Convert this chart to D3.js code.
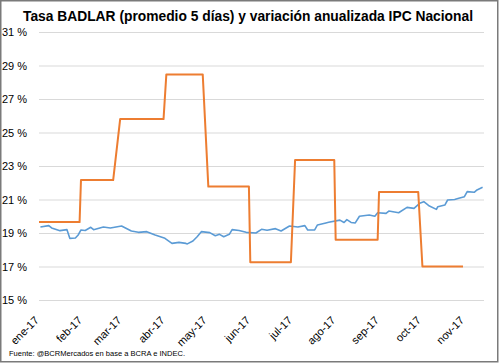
<!DOCTYPE html>
<html>
<head>
<meta charset="utf-8">
<script src="https://cdn.jsdelivr.net/npm/d3@7"></script>
<style>
  body { margin: 0; background: #fff; }
  text { font-family: "Liberation Sans", Arial, sans-serif; fill: #000; }
</style>
</head>
<body>
<script>
const width = 500;
const height = 363;

// BADLAR 5-day average (% TNA)
const badlarDates = [
  '2017-01-02', '2017-01-08', '2017-01-10', '2017-01-16', '2017-01-21', '2017-01-23',
  '2017-01-27', '2017-01-29', '2017-01-31', '2017-02-03', '2017-02-07', '2017-02-09',
  '2017-02-16', '2017-02-21', '2017-03-01', '2017-03-08', '2017-03-13', '2017-03-19',
  '2017-03-25', '2017-04-01', '2017-04-06', '2017-04-11', '2017-04-16', '2017-04-17',
  '2017-04-21', '2017-04-24', '2017-04-27', '2017-05-03', '2017-05-07', '2017-05-10',
  '2017-05-13', '2017-05-17', '2017-05-19', '2017-05-24', '2017-05-29', '2017-06-05',
  '2017-06-09', '2017-06-13', '2017-06-19', '2017-06-23', '2017-06-29', '2017-07-05',
  '2017-07-10', '2017-07-12', '2017-07-17', '2017-07-19', '2017-07-25', '2017-07-27',
  '2017-08-04', '2017-08-07', '2017-08-09', '2017-08-12', '2017-08-15', '2017-08-18',
  '2017-08-25', '2017-08-29', '2017-08-31', '2017-09-06', '2017-09-08', '2017-09-15',
  '2017-09-21', '2017-09-26', '2017-09-30', '2017-10-03', '2017-10-07', '2017-10-12',
  '2017-10-13', '2017-10-18', '2017-10-20', '2017-10-25', '2017-10-28', '2017-11-01',
  '2017-11-03', '2017-11-08', '2017-11-10', '2017-11-14'
];
const badlarValues = [
  19.36, 19.44, 19.30, 19.14, 19.20, 18.68,
  18.70, 18.88, 19.18, 19.15, 19.34, 19.20,
  19.36, 19.30, 19.42, 19.12, 19.04, 19.08,
  18.88, 18.68, 18.38, 18.44, 18.38, 18.35,
  18.52, 18.78, 19.08, 19.02, 18.84, 18.92,
  18.78, 18.92, 19.20, 19.15, 19.04, 19.00,
  19.22, 19.16, 19.26, 19.12, 19.42, 19.36,
  19.44, 19.18, 19.18, 19.48, 19.60, 19.64,
  19.77, 19.63, 19.80, 19.63, 19.60, 20.00,
  20.07, 20.00, 20.21, 20.17, 20.31, 20.21,
  20.53, 20.47, 20.77, 20.87, 20.61, 20.41,
  20.57, 20.67, 20.97, 21.00, 21.07, 21.17,
  21.47, 21.43, 21.57, 21.73
];

// IPC Nacional, monthly variation annualized (%)
const ipcDates = [
  '2017-01-01', '2017-01-30', '2017-01-31', '2017-02-23', '2017-02-28', '2017-03-31',
  '2017-04-02', '2017-04-28', '2017-05-02', '2017-05-31', '2017-06-01', '2017-06-30',
  '2017-07-03', '2017-07-31', '2017-08-01', '2017-08-31', '2017-09-01', '2017-09-29',
  '2017-10-02', '2017-10-31'
];
const ipcValues = [
  19.65, 19.65, 22.16, 22.16, 25.80, 25.80,
  28.47, 28.47, 21.77, 21.77, 17.25, 17.25,
  23.36, 23.36, 18.60, 18.60, 21.45, 21.45,
  17.00, 17.00
];

const yTicks = [15, 17, 19, 21, 23, 25, 27, 29, 31];
const monthLabels = ['ene-17', 'feb-17', 'mar-17', 'abr-17', 'may-17', 'jun-17',
  'jul-17', 'ago-17', 'sep-17', 'oct-17', 'nov-17'];

const parse = d3.timeParse('%Y-%m-%d');
const badlar = badlarDates.map((d, i) => ({ date: parse(d), value: badlarValues[i] }));
const ipc = ipcDates.map((d, i) => ({ date: parse(d), value: ipcValues[i] }));
const monthTicks = monthLabels.map((m, i) => new Date(2017, i, 1));

const x = d3.scaleTime()
  .domain([new Date(2017, 0, 1), new Date(2017, 10, 15)])
  .range([39, 484]);

const y = d3.scaleLinear()
  .domain([15, 31])
  .range([300, 32]);

const svg = d3.select('body').append('svg')
  .attr('width', width)
  .attr('height', height);

svg.append('rect')
  .attr('x', 0.75).attr('y', 0.75)
  .attr('width', width - 3).attr('height', height - 2)
  .attr('fill', '#fff')
  .attr('stroke', '#7a7a7a')
  .attr('stroke-width', 1.5);

svg.append('text')
  .attr('x', 248).attr('y', 21)
  .attr('text-anchor', 'middle')
  .attr('font-size', 14)
  .attr('font-weight', 'bold')
  .attr('textLength', 450)
  .attr('lengthAdjust', 'spacingAndGlyphs')
  .text('Tasa BADLAR (promedio 5 días) y variación anualizada IPC Nacional');

// gridlines + y labels
const yAxis = d3.axisLeft(y)
  .tickValues(yTicks)
  .tickSize(-(484 - 39))
  .tickFormat(d => d + ' %');

svg.append('g')
  .attr('transform', 'translate(39,0)')
  .call(yAxis)
  .call(g => g.select('.domain').remove())
  .call(g => g.selectAll('.tick line').attr('stroke', '#d9d9d9'))
  .call(g => g.selectAll('.tick text')
    .attr('x', -37)
    .attr('text-anchor', 'start')
    .attr('font-size', 11)
    .attr('font-family', '"Liberation Sans", Arial, sans-serif'));

// x labels
const xAxis = d3.axisBottom(x)
  .tickValues(monthTicks)
  .tickSize(0)
  .tickFormat((d, i) => monthLabels[i]);

svg.append('g')
  .attr('transform', 'translate(0,300)')
  .call(xAxis)
  .call(g => g.select('.domain').remove())
  .call(g => g.selectAll('.tick text')
    .attr('font-size', 11)
    .attr('font-family', '"Liberation Sans", Arial, sans-serif')
    .attr('text-anchor', 'end')
    .attr('dy', 0)
    .attr('y', 0)
    .attr('transform', 'translate(0,21) rotate(-45)'));

const line = d3.line()
  .x(d => x(d.date))
  .y(d => y(d.value));

svg.append('path')
  .datum(badlar)
  .attr('fill', 'none')
  .attr('stroke', '#5b9bd5')
  .attr('stroke-width', 1.6)
  .attr('stroke-linejoin', 'round')
  .attr('d', line);

svg.append('path')
  .datum(ipc)
  .attr('fill', 'none')
  .attr('stroke', '#ed7d31')
  .attr('stroke-width', 2)
  .attr('stroke-linejoin', 'round')
  .attr('d', line);

svg.append('text')
  .attr('x', 9).attr('y', 356)
  .attr('font-size', 8)
  .attr('textLength', 176)
  .attr('lengthAdjust', 'spacingAndGlyphs')
  .text('Fuente: @BCRMercados en base a BCRA e INDEC.');
</script>
</body>
</html>
